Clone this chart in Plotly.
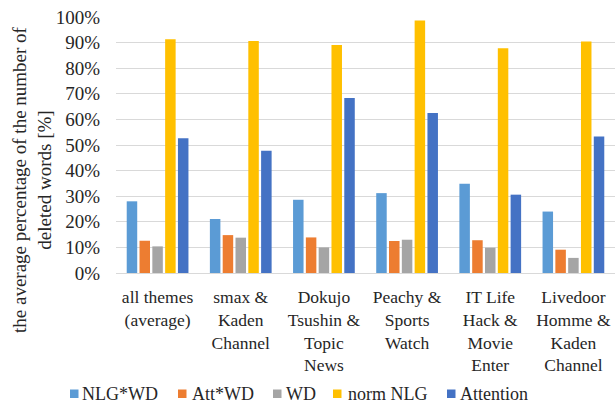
import plotly.graph_objects as go

# Themes (category axis) and the average share of deleted words per method
categories = [
    "all themes<br>(average)",
    "smax &<br>Kaden<br>Channel",
    "Dokujo<br>Tsushin &<br>Topic<br>News",
    "Peachy &<br>Sports<br>Watch",
    "IT Life<br>Hack &<br>Movie<br>Enter",
    "Livedoor<br>Homme &<br>Kaden<br>Channel",
]
series_names = ["NLG*WD", "Att*WD", "WD", "norm NLG", "Attention"]
nlg_wd = [0.280, 0.211, 0.286, 0.312, 0.349, 0.240]
att_wd = [0.126, 0.148, 0.139, 0.125, 0.128, 0.091]
wd = [0.104, 0.138, 0.100, 0.130, 0.099, 0.059]
norm_nlg = [0.913, 0.906, 0.891, 0.986, 0.878, 0.904]
attention = [0.526, 0.478, 0.684, 0.625, 0.306, 0.533]
y_ticks = [i / 10 for i in range(11)]

colors = ["#5B9BD5", "#ED7D31", "#A5A5A5", "#FFC000", "#4472C4"]
series_values = [nlg_wd, att_wd, wd, norm_nlg, attention]

W, H = 615, 403
L, R, T, B = 116, 0, 17, 130
plot_w, plot_h = W - L - R, H - T - B

FONT = "'Liberation Serif', 'Times New Roman', serif"
TEXT = "#262626"

fig = go.Figure()
for name, vals, col in zip(series_names, series_values, colors):
    fig.add_trace(go.Bar(x=categories, y=vals, name=name,
                         marker=dict(color=col, line=dict(width=0)),
                         showlegend=False))


def px_x(px):
    return (px - L) / plot_w


def px_y(py):
    return (H - B - py) / plot_h


# Legend row below the category labels
legend_sq = [70, 178, 273, 333, 447]
legend_txt = [80, 190, 284, 346, 458]
shapes = []
annotations = []
for name, col, sx, tx in zip(series_names, colors, legend_sq, legend_txt):
    shapes.append(dict(type="rect", xref="paper", yref="paper",
                       x0=px_x(sx), x1=px_x(sx + 8.5),
                       y0=px_y(398), y1=px_y(389.5),
                       fillcolor=col, line=dict(width=0)))
    annotations.append(dict(text=name, xref="paper", yref="paper",
                            x=px_x(tx), y=px_y(394), xanchor="left",
                            yanchor="middle", showarrow=False,
                            font=dict(family=FONT, size=18, color=TEXT)))

# Y-axis title, two lines, rotated
annotations.append(dict(
    text="the average percentage of the number of<br>deleted words [%]",
    xref="paper", yref="paper", x=px_x(32), y=px_y(180),
    xanchor="center", yanchor="middle", textangle=-90, showarrow=False,
    font=dict(family=FONT, size=19, color=TEXT)))

fig.update_layout(
    width=W, height=H,
    margin=dict(l=L, r=R, t=T, b=B, pad=0),
    paper_bgcolor="white", plot_bgcolor="white",
    barmode="group", bargap=0.23, bargroupgap=0.18,
    font=dict(family=FONT, size=18, color=TEXT),
    shapes=shapes, annotations=annotations,
    showlegend=False,
    xaxis=dict(showgrid=False, showline=True, linecolor="#D9D9D9",
               linewidth=1, ticks="outside", ticklen=8,
               tickcolor="rgba(0,0,0,0)",
               tickfont=dict(family=FONT, size=17.5, color=TEXT),
               fixedrange=True),
    yaxis=dict(range=[0, 1.0], tickvals=y_ticks, tickformat=".0%",
               showgrid=True, gridcolor="#D9D9D9", gridwidth=1,
               zeroline=False, showline=False,
               ticks="outside", ticklen=11, tickcolor="rgba(0,0,0,0)",
               tickfont=dict(family=FONT, size=19, color=TEXT),
               fixedrange=True),
)

fig.write_html("out.html")
